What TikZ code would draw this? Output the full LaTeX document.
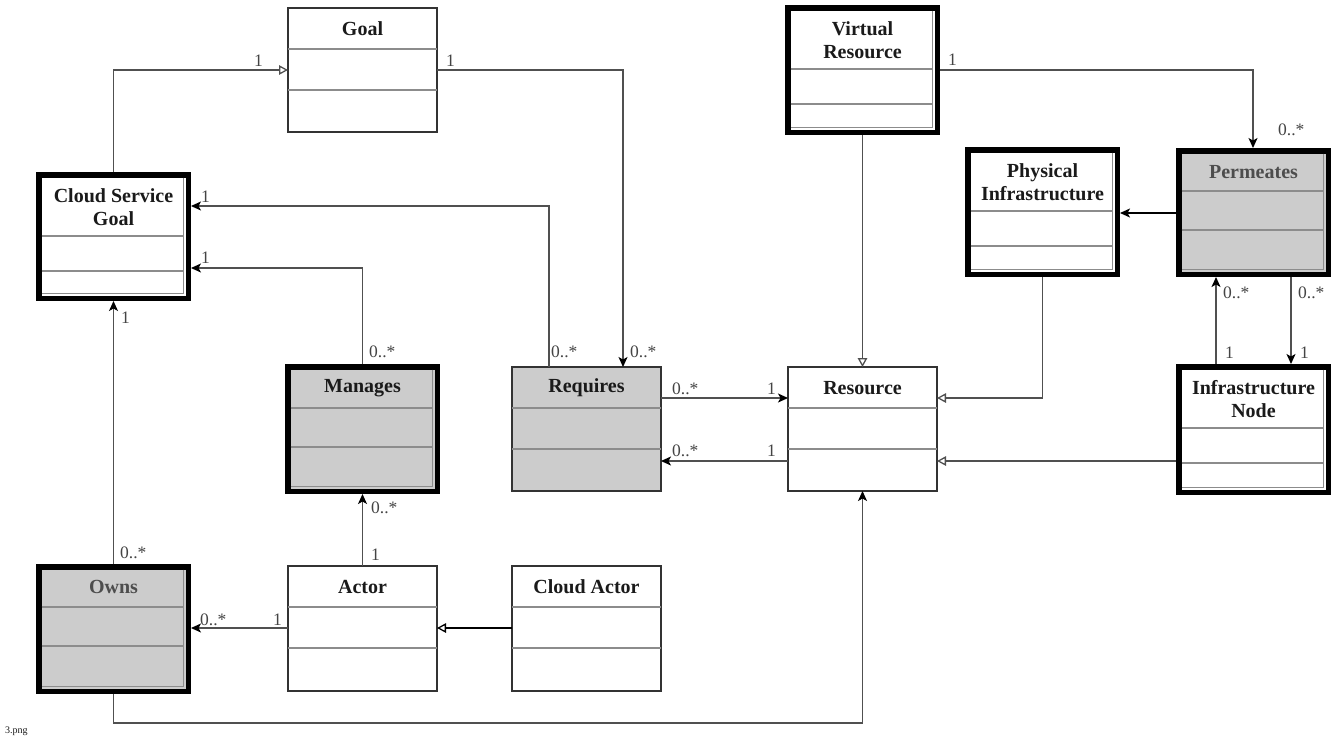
\documentclass[tikz,border=0pt]{standalone}
\usepackage{fontspec}
\setmainfont{Liberation Serif}
\usetikzlibrary{arrows.meta}

\definecolor{boxline}{HTML}{333333}
\definecolor{divline}{HTML}{8C8C8C}
\definecolor{assocfill}{HTML}{CCCCCC}
\definecolor{conn}{HTML}{505050}
\definecolor{multcol}{HTML}{444444}
\definecolor{titlecol}{HTML}{1A1A1A}
\definecolor{paletitle}{HTML}{4D4D4D}

% class box with thin border: name, extra options, x1, y1, x2, y2, divider 1, divider 2
\newcommand{\plainclass}[8]{%
  \node[thinbox,#2,minimum width={#5-#3},minimum height={#6-#4}] (#1) at ({(#3+#5)/2},{(#4+#6)/2}) {};
  \draw[divider] (#1.west |- 0,#7) -- (#1.east |- 0,#7) (#1.west |- 0,#8) -- (#1.east |- 0,#8);
}
% class box with heavy black border and inner shadow line
\newcommand{\heavyclass}[8]{%
  \node[thickbox,#2,minimum width={#5-#3-5.5},minimum height={#6-#4-5.5}] (#1) at ({(#3+#5)/2},{(#4+#6)/2}) {};
  \draw[divider] (#3+5.5,#7) -- (#5-7.5,#7) (#3+5.5,#8) -- (#5-7.5,#8);
  \draw[innerline] (#5-7.5,#4+5.5) -- (#5-7.5,#6-7.5) -- (#3+5.5,#6-7.5);
}

\begin{document}
\begin{tikzpicture}[x=1pt,y=-1pt,
  thinbox/.style={draw=boxline, line width=1.2pt, inner sep=0pt, outer sep=0pt},
  thickbox/.style={draw=black, line width=5.5pt, inner sep=0pt, outer sep=2.75pt},
  shaded/.style={fill=assocfill},
  divider/.style={draw=divline, line width=1.2pt},
  innerline/.style={draw=divline, line width=1.2pt},
  title/.style={font=\bfseries\fontsize{20}{23.5}\selectfont, align=center, text=titlecol, inner sep=0pt},
  mult/.style={font=\fontsize{17.5}{19}\selectfont, text=multcol, anchor=west, inner sep=0pt},
  assoc/.style={draw=conn, line width=1.3pt, -{Stealth[length=10pt,width=9pt,inset=2.5pt,color=black]}},
  gen/.style={draw=conn, line width=1.3pt, -{Triangle[open, length=9pt, width=9.5pt, fill=white]}},
]
\useasboundingbox (0,0) rectangle (1341,740);

% classes
\plainclass{goal}{}{288}{8}{437}{132}{49}{90}
\node[title] (goal-t) at (362.5,28.5) {Goal};

\heavyclass{csg}{}{36}{172}{191}{301}{236}{271}
\node[title] (csg-t) at (113.5,207) {Cloud Service\\Goal};

\heavyclass{vr}{}{785}{5}{940}{135}{69}{104}
\node[title] (vr-t) at (862.5,40) {Virtual\\Resource};

\heavyclass{phys}{}{965}{147}{1120}{277}{211}{246}
\node[title] (phys-t) at (1042.5,182) {Physical\\Infrastructure};

\heavyclass{perm}{shaded}{1176}{148}{1331}{277}{191}{230}
\node[title, text=paletitle] (perm-t) at (1253.5,172) {Permeates};

\heavyclass{inode}{}{1176}{364}{1331}{495}{428}{463}
\node[title] (inode-t) at (1253.5,399) {Infrastructure\\Node};

\heavyclass{man}{shaded}{285}{364}{440}{494}{408}{447}
\node[title] (man-t) at (362.5,388) {Manages};

\plainclass{req}{shaded}{512}{367}{661}{491}{408}{449}
\node[title] (req-t) at (586.5,388) {Requires};

\plainclass{res}{}{788}{367}{937}{491}{408}{449}
\node[title] (res-t) at (862.5,388) {Resource};

\heavyclass{owns}{shaded}{36}{564}{191}{694}{607}{646}
\node[title, text=paletitle] (owns-t) at (113.5,587) {Owns};

\plainclass{actor}{}{288}{566}{437}{691}{607}{648}
\node[title] (actor-t) at (362.5,587) {Actor};

\plainclass{cactor}{}{512}{566}{661}{691}{607}{648}
\node[title] (cactor-t) at (586.5,587) {Cloud Actor};

% connectors
\draw[gen] (csg.north) |- (goal.west |- 0,70);
\draw[assoc] (goal.east |- 0,70) -| (req.north -| 623,0);
\draw[assoc] (req.north -| 549,0) |- (csg.east |- 0,206);
\draw[assoc] (man.north) |- (csg.east |- 0,268);
\draw[assoc] (owns.north) -- (csg.south);
\draw[assoc] (actor.north) -- (man.south);
\draw[assoc] (actor.west |- 0,628) -- (owns.east |- 0,628);
\draw[gen, draw=black] (cactor.west |- 0,628) -- (actor.east |- 0,628);
\draw[assoc] (owns.south) -- ++(0,29) -| (res.south);
\draw[assoc] (req.east |- 0,398) -- (res.west |- 0,398);
\draw[assoc] (res.west |- 0,461) -- (req.east |- 0,461);
\draw[gen] (vr.south) -- (res.north);
\draw[gen] (phys.south) |- (res.east |- 0,398);
\draw[gen] (inode.west |- 0,461) -- (res.east |- 0,461);
\draw[assoc] (vr.east |- 0,70) -| (perm.north -| 1253,0);
\draw[assoc, draw=black] (perm.west |- 0,213) -- (phys.east |- 0,213);
\draw[assoc] (inode.north -| 1216,0) -- (perm.south -| 1216,0);
\draw[assoc] (perm.south -| 1291,0) -- (inode.north -| 1291,0);

% multiplicities
\node[mult] (m1) at (254,61) {1};
\node[mult] (m2) at (446,61) {1};
\node[mult] (m3) at (201,197) {1};
\node[mult] (m4) at (201,258) {1};
\node[mult] (m5) at (121,318) {1};
\node[mult] (m6) at (120,553) {0..*};
\node[mult] (m7) at (369,352) {0..*};
\node[mult] (m8) at (551,352) {0..*};
\node[mult] (m9) at (630,352) {0..*};
\node[mult] (m10) at (672,389) {0..*};
\node[mult] (m11) at (767,389) {1};
\node[mult] (m12) at (672,451) {0..*};
\node[mult] (m13) at (767,451) {1};
\node[mult] (m14) at (371,555) {1};
\node[mult] (m15) at (371,508) {0..*};
\node[mult] (m16) at (200,620) {0..*};
\node[mult] (m17) at (273,620) {1};
\node[mult] (m18) at (948,60) {1};
\node[mult] (m19) at (1278,130) {0..*};
\node[mult] (m20) at (1223,293) {0..*};
\node[mult] (m21) at (1225,353) {1};
\node[mult] (m22) at (1298,293) {0..*};
\node[mult] (m23) at (1300,353) {1};

% file name caption
\node[font=\fontsize{10}{12}\selectfont, anchor=west, inner sep=0pt, text=titlecol] (fname) at (5,731) {3.png};
\end{tikzpicture}
\end{document}
